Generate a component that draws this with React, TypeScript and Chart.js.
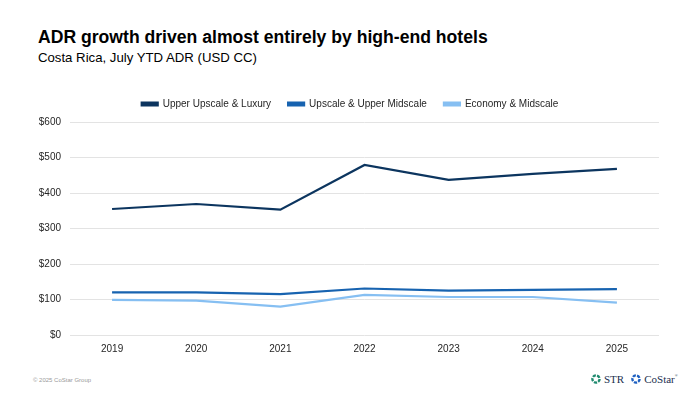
import React, { useEffect, useRef } from "react";
import { Chart, registerables } from "chart.js";

Chart.register(...registerables);

const years = ["2019", "2020", "2021", "2022", "2023", "2024", "2025"];
const upperUpscaleLuxury = [355, 369, 353, 479, 437, 454, 468];
const upscaleUpperMidscale = [120, 120, 115, 131, 125, 127, 129];
const economyMidscale = [99, 97, 80, 113, 107, 107, 91];
const seriesNames = ["Upper Upscale & Luxury", "Upscale & Upper Midscale", "Economy & Midscale"];
const seriesColors = ["#0c355f", "#1763b0", "#86bff2"];
const yTicks = [0, 100, 200, 300, 400, 500, 600];

const FONT = "'Liberation Sans', Arial, sans-serif";

function Icon({ color }: { color: string }) {
  return (
    <svg width="10" height="10" viewBox="0 0 10 10" style={{ display: "inline-block", verticalAlign: "middle" }}>
      <circle cx="5" cy="5" r="3.6" fill="none" stroke={color} strokeWidth="2.4" strokeDasharray="3.2 1.2" />
    </svg>
  );
}

const legendGap = {
  id: "legendGap",
  beforeUpdate(chart: any) {
    const lg = chart.legend;
    if (lg && !lg._gapPatched) {
      const orig = lg.fit;
      lg.fit = function (this: any) {
        orig.call(this);
        this.height += 3;
      };
      lg._gapPatched = true;
    }
  },
};

export default function App() {
  const ref = useRef<HTMLCanvasElement | null>(null);
  useEffect(() => {
    if (!ref.current) return;
    const data = [upperUpscaleLuxury, upscaleUpperMidscale, economyMidscale];
    const chart = new Chart(ref.current, {
      type: "line",
      data: {
        labels: years,
        datasets: data.map((d, i) => ({
          label: seriesNames[i],
          data: d,
          borderColor: seriesColors[i],
          backgroundColor: seriesColors[i],
          borderWidth: 2.2,
          pointRadius: 0,
          tension: 0,
          yAxisID: "y",
        })),
      },
      plugins: [legendGap],
      options: {
        animation: false,
        responsive: false,
        maintainAspectRatio: false,
        layout: { padding: { left: 30, right: 30, top: 0, bottom: 0 } },
        plugins: {
          legend: {
            position: "top",
            labels: {
              boxWidth: 16,
              boxHeight: 3,
              padding: 17,
              color: "#262626",
              font: { family: FONT, size: 10 },
            },
          },
          tooltip: { enabled: false },
        },
        scales: {
          x: {
            offset: true,
            grid: { display: false },
            border: { display: false },
            ticks: { color: "#262626", font: { family: FONT, size: 10 }, padding: 0 },
          },
          y: {
            position: "left",
            min: 0,
            max: 600,
            afterFit: (s: any) => {
              s.width = 40;
            },
            afterBuildTicks: (s: any) => {
              s.ticks = yTicks.map((v) => ({ value: v }));
            },
            grid: { color: "#e3e3e3", drawTicks: false, lineWidth: 1 },
            border: { display: false },
            ticks: {
              color: "#262626",
              font: { family: FONT, size: 10 },
              padding: 9,
              callback: (v: any) => "$" + v,
            },
          },
          y2: {
            position: "right",
            min: 0,
            max: 600,
            afterFit: (s: any) => {
              s.width = 11;
            },
            grid: { display: false },
            border: { display: false },
            ticks: { display: false },
          },
        },
      },
    });
    return () => chart.destroy();
  }, []);

  return (
    <div style={{ position: "fixed", left: 0, top: 0, width: 700, height: 394, background: "#fff", fontFamily: FONT, overflow: "hidden" }}>
      <div style={{ position: "absolute", left: 38, top: 27, fontSize: 17.6, fontWeight: "bold", color: "#000", whiteSpace: "nowrap" }}>
        ADR growth driven almost entirely by high-end hotels
      </div>
      <div style={{ position: "absolute", left: 38, top: 50, fontSize: 13.2, color: "#000", whiteSpace: "nowrap" }}>
        Costa Rica, July YTD ADR (USD CC)
      </div>
      <canvas ref={ref} width={700} height={273} style={{ position: "absolute", left: 0, top: 82, width: 700, height: 273 }} />
      <div style={{ position: "absolute", left: 33, top: 377, fontSize: 6, color: "#9a9a9a", whiteSpace: "nowrap" }}>
        © 2025 CoStar Group
      </div>
      <div style={{ position: "absolute", left: 591, top: 373, fontSize: 11, whiteSpace: "nowrap", fontFamily: "'Liberation Serif', serif", color: "#1b2f4f", display: "flex", alignItems: "center" }}>
        <Icon color="#1f8a6e" />
        <span style={{ marginLeft: 3, marginRight: 7 }}>STR</span>
        <Icon color="#1d5fc0" />
        <span style={{ marginLeft: 3 }}>CoStar</span>
        <span style={{ fontSize: 4, alignSelf: "flex-start" }}>®</span>
      </div>
    </div>
  );
}
